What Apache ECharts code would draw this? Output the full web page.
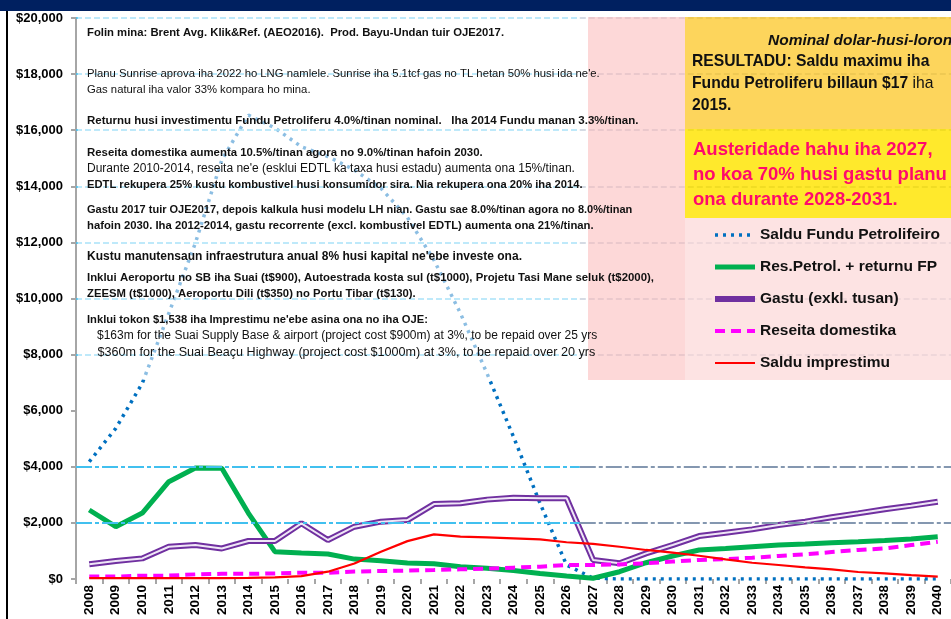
<!DOCTYPE html>
<html lang="tet">

<head>
    <meta charset="UTF-8">
    <title>Fundu Petroliferu</title>
    <script src="https://cdn.jsdelivr.net/npm/echarts@6/dist/echarts.min.js"></script>
</head>
<style>
    * {
        margin: 0;
        padding: 0;
    }

    html,
    body {
        height: 100%;
        width: 100%;
        background: #fff;
    }

    #main {
        width: 951px;
        height: 619px;
    }
</style>

<body>
    <div id="main"></div>
    <script>
        // tinan
        var years = ['2008', '2009', '2010', '2011', '2012', '2013', '2014', '2015', '2016', '2017', '2018',
            '2019', '2020', '2021', '2022', '2023', '2024', '2025', '2026', '2027', '2028', '2029', '2030',
            '2031', '2032', '2033', '2034', '2035', '2036', '2037', '2038', '2039', '2040'];
        // tokon $
        var saldu = [4180, 5370, 6980, 9470, 11970, 14940, 16540, 16080, 15410, 15060, 14580, 13930, 12890,
            11370, 9470, 7330, 5070, 2700, 500, 30, 0, 0, 0, 0, 0, 0, 0, 0, 0, 0, 0, 0, 0];
        var resPetrol = [2460, 1865, 2350, 3470, 3960, 3950, 2350, 975, 925, 890, 710, 650, 570, 540, 440,
            380, 300, 200, 105, 25, 260, 580, 820, 1035, 1090, 1150, 1210, 1250, 1295, 1330, 1370, 1425, 1510];
        var gastu = [525, 640, 735, 1150, 1210, 1090, 1355, 1355, 1985, 1390, 1865, 2045, 2100, 2670, 2700,
            2830, 2900, 2880, 2880, 680, 560, 915, 1210, 1530, 1650, 1770, 1925, 2045, 2200, 2340, 2485, 2615, 2755];
        var reseita = [85, 85, 120, 120, 165, 185, 185, 200, 225, 225, 265, 285, 300, 320, 345, 370, 405,
            440, 500, 500, 520, 560, 620, 680, 710, 760, 820, 880, 960, 1035, 1090, 1210, 1330];
        var imprestimu = [30, 30, 30, 30, 30, 30, 40, 60, 105, 260, 550, 975, 1350, 1590, 1510, 1485, 1450,
            1415, 1310, 1250, 1150, 1035, 940, 830, 700, 580, 500, 415, 345, 250, 200, 140, 85];
        var seriesNames = ['Saldu Fundu Petrolifeiro', 'Res.Petrol. + returnu FP', 'Gastu (exkl. tusan)',
            'Reseita domestika', 'Saldu imprestimu'];
        var gridLevels = [2000, 4000, 8000, 10000, 12000, 14000, 16000, 18000, 20000];

        // [text, y, font]
        var notes = [
            ['Folin mina: Brent Avg. Klik&Ref. (AEO2016).  Prod. Bayu-Undan tuir OJE2017.', 33, 'bold 11.3px'],
            ['Planu Sunrise aprova iha 2022 ho LNG namlele. Sunrise iha 5.1tcf gas no TL hetan 50% husi ida ne\'e.', 74, '11.3px'],
            ['Gas natural iha valor 33% kompara ho mina.', 90, '11.3px'],
            ['Returnu husi investimentu Fundu Petroliferu 4.0%/tinan nominal.   Iha 2014 Fundu manan 3.3%/tinan.', 121, 'bold 11.5px'],
            ['Reseita domestika aumenta 10.5%/tinan agora no 9.0%/tinan hafoin 2030.', 153, 'bold 11.4px'],
            ['Durante 2010-2014, reseita ne\'e (esklui EDTL ka taxa husi estadu) aumenta ona 15%/tinan.', 169, '12px'],
            ['EDTL rekupera 25% kustu kombustivel husi konsumidor sira. Nia rekupera ona 20% iha 2014.', 185, 'bold 11.2px'],
            ['Gastu 2017 tuir OJE2017, depois kalkula husi modelu LH nian. Gastu sae 8.0%/tinan agora no 8.0%/tinan', 210, 'bold 11px'],
            ['hafoin 2030. Iha 2012-2014, gastu recorrente (excl. kombustivel EDTL) aumenta ona 21%/tinan.', 226, 'bold 11.3px'],
            ['Kustu manutensaun infraestrutura anual 8% husi kapital ne\'ebe investe ona.', 257, 'bold 12px'],
            ['Inklui Aeroportu no SB iha Suai (t$900), Autoestrada kosta sul (t$1000), Projetu Tasi Mane seluk (t$2000),', 278, 'bold 11.4px'],
            ['ZEESM (t$1000), Aeroportu Dili (t$350) no Portu Tibar (t$130).', 294, 'bold 11.3px'],
            ['Inklui tokon $1,538 iha Imprestimu ne\'ebe asina ona no iha OJE:', 320, 'bold 11.2px'],
            ['   $163m for the Suai Supply Base & airport (project cost $900m) at 3%, to be repaid over 25 yrs', 336, '12px'],
            ['   $360m for the Suai Beaçu Highway (project cost $1000m) at 3%, to be repaid over 20 yrs', 353, '12.6px']
        ];

        var chart = echarts.init(document.getElementById('main'), null, { renderer: 'canvas' });

        // gridline segments: light blue on left, grey-blue from 2027 on
        var gridSegs = [];
        gridLevels.forEach(function (v) {
            var low = v <= 4000;
            var st = low ? { width: 2, type: [16, 3, 4, 3] } : { width: 1.5, type: [6, 3] };
            gridSegs.push([{ coord: [0, v], lineStyle: Object.assign({ color: '#41c0ef' }, st) }, { coord: [19, v] }]);
            gridSegs.push([{ coord: [19, v], lineStyle: Object.assign({ color: '#8497b0' }, st) }, { coord: [33, v] }]);
        });

        var F = '"Liberation Sans"';
        var graphics = [
            { type: 'rect', shape: { x: 0, y: 0, width: 951, height: 11 }, style: { fill: '#002060' }, z: 50 },
            { type: 'rect', shape: { x: 6, y: 11, width: 2, height: 608 }, style: { fill: '#000' }, z: 50 },
            // text box
            { type: 'rect', shape: { x: 78, y: 17, width: 510, height: 363 }, style: { fill: '#fff', opacity: 0.55 }, z: 10 },
            { type: 'rect', shape: { x: 588, y: 17, width: 97, height: 363 }, style: { fill: '#fdcece', opacity: 0.8 }, z: 10 },
            { type: 'rect', shape: { x: 685, y: 17, width: 266, height: 112 }, style: { fill: '#fdce3f', opacity: 0.85 }, z: 10 },
            { type: 'rect', shape: { x: 685, y: 129, width: 266, height: 89 }, style: { fill: '#ffe507', opacity: 0.85 }, z: 10 },
            { type: 'rect', shape: { x: 685, y: 218, width: 266, height: 162 }, style: { fill: '#fddede', opacity: 0.85 }, z: 10 },
            {
                type: 'text', z: 12, style: {
                    x: 768, y: 41, text: 'Nominal dolar-husi-loron', verticalAlign: 'middle',
                    font: 'italic bold 15.5px ' + F, fill: '#111'
                }
            },
            {
                type: 'text', z: 12, style: {
                    x: 692, y: 62, text: 'RESULTADU: Saldu maximu iha', verticalAlign: 'middle',
                    font: 'bold 15.7px ' + F, fill: '#111'
                }
            },
            {
                type: 'text', z: 12, style: {
                    x: 692, y: 84, text: '{b|Fundu Petroliferu billaun $17} iha', verticalAlign: 'middle',
                    font: '15.7px ' + F, fill: '#111',
                    rich: { b: { font: 'bold 15.7px ' + F, fill: '#111' } }
                }
            },
            {
                type: 'text', z: 12, style: {
                    x: 692, y: 106, text: '2015.', verticalAlign: 'middle',
                    font: 'bold 15.7px ' + F, fill: '#111'
                }
            }
        ];
        ['Austeridade hahu iha 2027,', 'no koa 70% husi gastu planu', 'ona durante 2028-2031.'].forEach(function (t, i) {
            graphics.push({
                type: 'text', z: 12, style: {
                    x: 693, y: 150 + i * 25, text: t, verticalAlign: 'middle',
                    font: 'bold 18.5px ' + F, fill: '#ff0a6c'
                }
            });
        });
        notes.forEach(function (n) {
            graphics.push({
                type: 'text', z: 12, style: {
                    x: 87, y: n[1], text: n[0], verticalAlign: 'middle',
                    font: n[2] + ' ' + F, fill: '#111'
                }
            });
        });

        var legendWidths = [3.5, 5, 6, 4, 2.2];

        var option = {
            animation: false,
            backgroundColor: '#fff',
            grid: { left: 76, right: -14, top: 18, bottom: 40 },
            legend: {
                data: seriesNames.map(function (n, i) {
                    return { name: n, lineStyle: { width: legendWidths[i] } };
                }),
                orient: 'vertical',
                left: 712,
                top: 227,
                padding: 0,
                itemWidth: 40,
                itemHeight: 14,
                itemGap: 16,
                z: 20,
                itemStyle: { opacity: 0 },
                textStyle: { fontFamily: 'Liberation Sans', fontWeight: 'bold', fontSize: 15.5, color: '#111' }
            },
            xAxis: [{
                type: 'category',
                data: years,
                axisLine: { show: false },
                axisTick: { show: true, length: 5, lineStyle: { color: '#a6a6a6', width: 2 } },
                axisLabel: {
                    rotate: 90, interval: 0, margin: 6,
                    fontFamily: 'Liberation Sans', fontWeight: 'bold', fontSize: 13.5, color: '#000'
                },
                splitLine: { show: false }
            }, {
                type: 'value', min: 0, max: 33, show: false
            }],
            yAxis: {
                type: 'value',
                min: 0,
                max: 20000,
                interval: 2000,
                axisLine: { show: true, lineStyle: { color: '#a6a6a6', width: 2 } },
                axisTick: { show: true, length: 5, lineStyle: { color: '#a6a6a6', width: 2 } },
                axisLabel: {
                    margin: 13,
                    fontFamily: 'Liberation Sans', fontWeight: 'bold', fontSize: 13, color: '#000',
                    formatter: function (v) { return '$' + v.toLocaleString('en-US'); }
                },
                splitLine: { show: false }
            },
            series: [
                {
                    name: 'grid', type: 'line', xAxisIndex: 1, data: [], silent: true,
                    markLine: {
                        silent: true, symbol: ['none', 'none'], label: { show: false },
                        data: gridSegs
                    }
                },
                {
                    name: seriesNames[0], type: 'line', data: saldu, symbol: 'none',
                    lineStyle: { color: '#0070c0', width: 3.5, type: [3, 5] },
                    itemStyle: { color: '#0070c0' }
                },
                {
                    name: seriesNames[1], type: 'line', data: resPetrol, symbol: 'none',
                    lineStyle: { color: '#00b050', width: 5 },
                    itemStyle: { color: '#00b050' }
                },
                {
                    name: seriesNames[2], type: 'line', data: gastu, symbol: 'none',
                    lineStyle: { color: '#7030a0', width: 6 },
                    itemStyle: { color: '#7030a0' }
                },
                {
                    name: 'gastu-core', type: 'line', data: gastu, symbol: 'none', silent: true,
                    lineStyle: { color: '#efe6f6', width: 2 }
                },
                {
                    name: seriesNames[3], type: 'line', data: reseita, symbol: 'none',
                    lineStyle: { color: '#ff00ff', width: 4, type: [10, 6] },
                    itemStyle: { color: '#ff00ff' }
                },
                {
                    name: seriesNames[4], type: 'line', data: imprestimu, symbol: 'none',
                    lineStyle: { color: '#ff0000', width: 2.2 },
                    itemStyle: { color: '#ff0000' }
                }
            ],
            graphic: graphics
        };
        chart.setOption(option);
    </script>
</body>

</html>
